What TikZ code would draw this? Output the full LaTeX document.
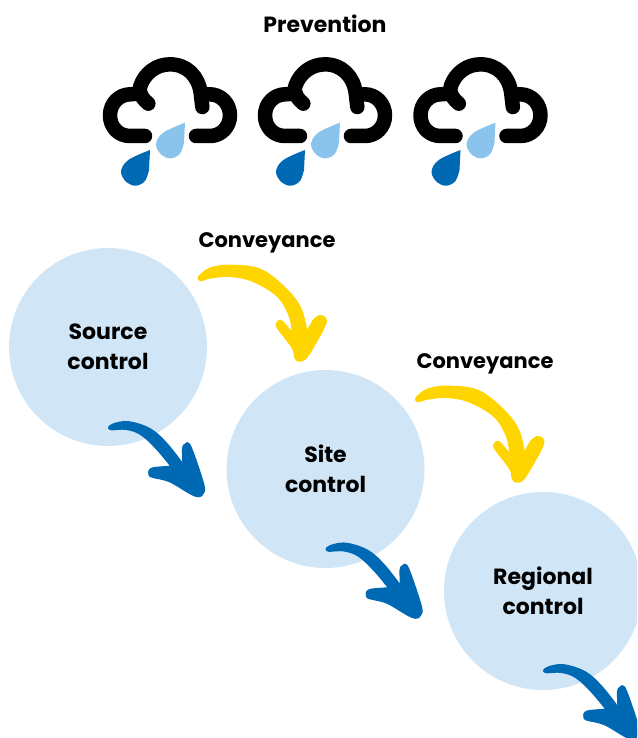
\documentclass[tikz,border=0pt]{standalone}
\usepackage{fontspec}
\setmainfont{Poppins}
\usepackage{tikz}
\definecolor{blobblue}{HTML}{D0E6F7}
\definecolor{dropdark}{HTML}{0069B4}
\definecolor{droplight}{HTML}{8AC4EC}
\definecolor{arrowyellow}{HTML}{FFD500}
\tikzset{
    blob/.style={circle, fill=blobblue, minimum size=198pt, inner sep=0pt, align=center, font=\fontsize{22}{30}\selectfont\bfseries},
    heading/.style={font=\fontsize{21}{25}\selectfont\bfseries},
    cloudline/.style={line width=14.5pt, line cap=round, line join=round},
    droplet/.pic={
        \fill plot[smooth, tension=0.6] coordinates {(270,215) (205,245) (183,280) (200,312) (228,322) (255,308) (267,275)} -- cycle;
    },
    cloudicon/.pic={
        \begin{scope}[x=0.3333pt, y=-0.3333pt]
            \draw[cloudline]
                (150,255) -- (105,255) .. controls (70,255) and (45,228) .. (45,193)
                .. controls (45,155) and (75,130) .. (105,130) -- (132,128);
            \draw[cloudline]
                (160,158) .. controls (145,145) and (130,130) .. (136,105)
                .. controls (150,65) and (185,40) .. (225,40)
                .. controls (275,40) and (310,75) .. (317,125) -- (322,168);
            \draw[cloudline]
                (320,130) -- (345,130) .. controls (378,130) and (405,158) .. (405,193)
                .. controls (405,228) and (378,255) .. (345,255) -- (303,255);
            \pic[droplight] {droplet};
            \pic[dropdark, shift={(-105,82)}] {droplet};
        \end{scope}
    },
    yellowarrow/.pic={
        \begin{scope}[x=0.3333pt, y=-0.3333pt]
            \filldraw[arrowyellow, line width=4pt, line join=round] plot[smooth, tension=0.6] coordinates {(28,54) (60,29) (120,20) (210,32) (286,90) (330,150) (348,226)}
                -- plot[smooth, tension=0.6] coordinates {(374,182) (390,171) (404,178) (400,198) (370,253) (345,292) (327,299) (318,290) (311,262) (268,205) (264,192) (275,188) (312,232)}
                -- plot[smooth, tension=0.6] coordinates {(312,232) (303,170) (265,106) (190,60) (120,45) (60,50) (34,58) (28,54)} -- cycle;
        \end{scope}
    },
    bluearrow/.pic={
        \begin{scope}[x=0.3333pt, y=-0.3333pt]
            \filldraw[dropdark, line width=4pt, line join=round] plot[smooth, tension=0.6] coordinates {(31,40) (50,31) (90,28) (150,49) (200,94) (254,164)}
                -- plot[smooth, tension=0.6] coordinates {(254,164) (252,105) (259,94) (266,94) (284,140) (308,216) (306,236) (295,244) (270,234) (210,199) (160,186) (151,180) (159,166) (221,161)}
                -- plot[smooth, tension=0.6] coordinates {(221,161) (176,106) (126,59) (80,42) (35,43) (31,40)} -- cycle;
        \end{scope}
    }
}

\begin{document}
\begin{tikzpicture}[x=1pt, y=-1pt]
    \useasboundingbox[clip] (0,0) rectangle (637,738);

    % Heading and the three rain clouds
    \node[heading, font=\fontsize{22}{25}\selectfont\bfseries] (prevention) at (325,23.5) {Prevention};
    \pic at (95,51) {cloudicon};
    \pic at (250,51) {cloudicon};
    \pic at (405.5,51) {cloudicon};

    % Draw the circles for the three control stages
    \node[blob] (source) at (108,347) {Source\\control};
    \node[blob] (site) at (325.5,469) {Site\\control};
    \node[blob] (regional) at (543,591) {Regional\\control};

    % Yellow arrows with their labels
    \node[heading] (conveyA) at (267,243) {Conveyance};
    \node[heading] (conveyB) at (485,364) {Conveyance};
    \pic at (190,260) {yellowarrow};
    \pic at (407.5,381) {yellowarrow};

    % Blue arrows leaving each circle
    \pic at (100,414) {bluearrow};
    \pic at (317.5,535.5) {bluearrow};
    \pic at (535,657) {bluearrow};
\end{tikzpicture}
\end{document}
